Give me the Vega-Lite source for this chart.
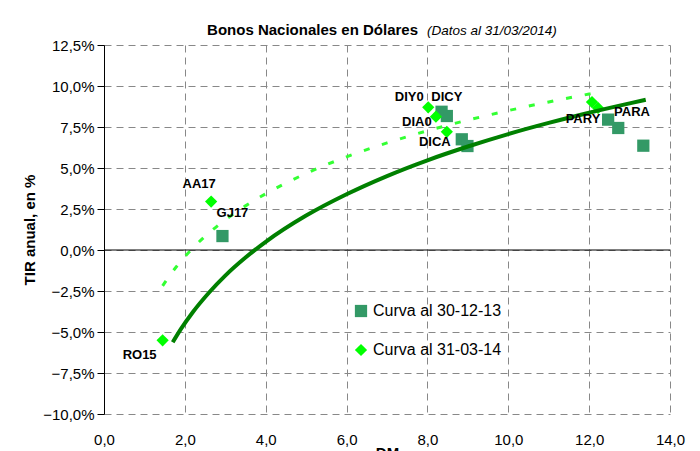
{
  "$schema": "https://vega.github.io/schema/vega-lite/v6.json",
  "width": 566,
  "height": 369,
  "autosize": {"type": "none"},
  "padding": {"left": 104, "top": 45, "right": 30, "bottom": 37},
  "background": "white",
  "config": {
    "font": "Liberation Sans",
    "view": {"stroke": null},
    "axis": {"gridColor": "#888888", "gridDash": [7, 5], "gridWidth": 1, "gridOpacity": 1, "labelColor": "black", "titleColor": "black", "labelFont": "Liberation Sans", "titleFont": "Liberation Sans"}
  },
  "datasets": {
    "bonos": [
      {"bono": "GJ17", "serie": "Curva al 30-12-13", "dm": 2.93, "tir": 0.85, "etiqueta": "GJ17"},
      {"bono": "DIY0", "serie": "Curva al 30-12-13", "dm": 8.35, "tir": 8.43},
      {"bono": "DICY", "serie": "Curva al 30-12-13", "dm": 8.48, "tir": 8.17, "etiqueta": "DICY"},
      {"bono": "DIA0", "serie": "Curva al 30-12-13", "dm": 8.85, "tir": 6.75},
      {"bono": "DICA", "serie": "Curva al 30-12-13", "dm": 8.99, "tir": 6.34},
      {"bono": "PARY", "serie": "Curva al 30-12-13", "dm": 12.47, "tir": 7.95},
      {"bono": "PARA", "serie": "Curva al 30-12-13", "dm": 12.72, "tir": 7.44},
      {"bono": "PARP", "serie": "Curva al 30-12-13", "dm": 13.34, "tir": 6.36},
      {"bono": "RO15", "serie": "Curva al 31-03-14", "dm": 1.45, "tir": -5.51, "etiqueta": "RO15"},
      {"bono": "AA17", "serie": "Curva al 31-03-14", "dm": 2.65, "tir": 2.95, "etiqueta": "AA17"},
      {"bono": "DIY0", "serie": "Curva al 31-03-14", "dm": 8.02, "tir": 8.70, "etiqueta": "DIY0"},
      {"bono": "DIA0", "serie": "Curva al 31-03-14", "dm": 8.21, "tir": 8.13, "etiqueta": "DIA0"},
      {"bono": "DICA", "serie": "Curva al 31-03-14", "dm": 8.48, "tir": 7.21, "etiqueta": "DICA"},
      {"bono": "PARY", "serie": "Curva al 31-03-14", "dm": 12.07, "tir": 9.02, "etiqueta": "PARY"},
      {"bono": "PARA", "serie": "Curva al 31-03-14", "dm": 12.22, "tir": 8.66, "etiqueta": "PARA"}
    ],
    "curva_dic": [
      {"dm": 1.7, "tir": -5.63}, {"dm": 1.9, "tir": -4.83}, {"dm": 2.2, "tir": -3.78},
      {"dm": 2.6, "tir": -2.59}, {"dm": 3.0, "tir": -1.56}, {"dm": 3.5, "tir": -0.46},
      {"dm": 4.0, "tir": 0.50}, {"dm": 5.0, "tir": 2.10}, {"dm": 6.0, "tir": 3.40},
      {"dm": 7.0, "tir": 4.51}, {"dm": 8.0, "tir": 5.47}, {"dm": 9.0, "tir": 6.31},
      {"dm": 10.0, "tir": 7.07}, {"dm": 11.0, "tir": 7.75}, {"dm": 12.0, "tir": 8.37},
      {"dm": 13.0, "tir": 8.94}, {"dm": 13.4, "tir": 9.16}
    ],
    "curva_mar": [
      {"dm": 1.45, "tir": -2.19}, {"dm": 1.6, "tir": -1.64}, {"dm": 1.8, "tir": -0.99},
      {"dm": 2.0, "tir": -0.41}, {"dm": 2.3, "tir": 0.37}, {"dm": 2.6, "tir": 1.05},
      {"dm": 3.0, "tir": 1.84}, {"dm": 3.5, "tir": 2.69}, {"dm": 4.0, "tir": 3.43},
      {"dm": 5.0, "tir": 4.67}, {"dm": 6.0, "tir": 5.68}, {"dm": 7.0, "tir": 6.53},
      {"dm": 8.0, "tir": 7.27}, {"dm": 9.0, "tir": 7.92}, {"dm": 10.0, "tir": 8.50},
      {"dm": 11.0, "tir": 9.03}, {"dm": 12.0, "tir": 9.51}, {"dm": 12.25, "tir": 9.63}
    ],
    "titulo": [
      {"parte": "Bonos Nacionales en Dólares", "dm": 2.55, "tir": 13.11},
      {"parte": "(Datos al 31/03/2014)", "dm": 7.99, "tir": 13.11}
    ]
  },
  "layer": [
    {
      "data": {"name": "bonos"},
      "mark": {"type": "point", "filled": true, "size": 150, "opacity": 1, "strokeWidth": 0},
      "encoding": {
        "x": {
          "field": "dm", "type": "quantitative",
          "scale": {"domain": [0, 14], "nice": false, "zero": false},
          "axis": {
            "title": "DM", "titleFontSize": 15, "titleFontWeight": "bold", "titlePadding": -2,
            "values": [0, 2, 4, 6, 8, 10, 12, 14],
            "labelExpr": "replace(format(datum.value, '.1f'), '.', ',')",
            "labelFontSize": 15, "labelPadding": 18, "ticks": false, "domain": false,
            "grid": true, "labelFlush": false
          }
        },
        "y": {
          "field": "tir", "type": "quantitative",
          "scale": {"domain": [-10, 12.5], "nice": false, "zero": false},
          "axis": {
            "title": "TIR anual, en %", "titleFontSize": 15, "titleFontWeight": "bold", "titlePadding": 5,
            "values": [-10, -7.5, -5, -2.5, 0, 2.5, 5, 7.5, 10, 12.5],
            "labelExpr": "replace(format(datum.value, '.1f'), '.', ',') + '%'",
            "labelFontSize": 15, "labelPadding": 3, "tickSize": 7, "tickColor": "black",
            "domain": true, "domainColor": "black", "grid": true
          }
        },
        "color": {
          "field": "serie", "type": "nominal",
          "scale": {"domain": ["Curva al 30-12-13", "Curva al 31-03-14"], "range": ["#339966", "#00FF00"]},
          "legend": {"title": null, "orient": "none", "legendX": 249, "legendY": 258, "labelFontSize": 16, "labelColor": "black", "symbolSize": 150, "rowPadding": 23, "labelOffset": 4, "symbolStrokeWidth": 0, "padding": 0}
        },
        "shape": {
          "field": "serie", "type": "nominal",
          "scale": {"domain": ["Curva al 30-12-13", "Curva al 31-03-14"], "range": ["square", "diamond"]},
          "legend": {"title": null, "orient": "none", "legendX": 249, "legendY": 258, "labelFontSize": 16, "labelColor": "black", "symbolSize": 150, "rowPadding": 23, "labelOffset": 4, "symbolStrokeWidth": 0, "padding": 0}
        }
      }
    },
    {
      "data": {"values": [{}]},
      "mark": {"type": "rule", "color": "black", "strokeWidth": 1},
      "encoding": {"y": {"datum": 0}}
    },
    {
      "data": {"name": "curva_mar"},
      "mark": {"type": "line", "color": "#33FF33", "strokeWidth": 3, "strokeDash": [6, 13], "interpolate": "monotone"},
      "encoding": {"x": {"field": "dm", "type": "quantitative"}, "y": {"field": "tir", "type": "quantitative"}}
    },
    {
      "data": {"name": "curva_dic"},
      "mark": {"type": "line", "color": "#008000", "strokeWidth": 4, "interpolate": "monotone"},
      "encoding": {"x": {"field": "dm", "type": "quantitative"}, "y": {"field": "tir", "type": "quantitative"}}
    },
    {"data": {"name": "bonos"}, "transform": [{"filter": "datum.etiqueta == 'RO15'"}], "mark": {"type": "text", "fontWeight": "bold", "fontSize": 13, "dx": -23, "dy": 15, "color": "black"}, "encoding": {"x": {"field": "dm", "type": "quantitative"}, "y": {"field": "tir", "type": "quantitative"}, "text": {"field": "etiqueta"}}},
    {"data": {"name": "bonos"}, "transform": [{"filter": "datum.etiqueta == 'AA17'"}], "mark": {"type": "text", "fontWeight": "bold", "fontSize": 13, "dx": -12, "dy": -18, "color": "black"}, "encoding": {"x": {"field": "dm", "type": "quantitative"}, "y": {"field": "tir", "type": "quantitative"}, "text": {"field": "etiqueta"}}},
    {"data": {"name": "bonos"}, "transform": [{"filter": "datum.etiqueta == 'GJ17'"}], "mark": {"type": "text", "fontWeight": "bold", "fontSize": 13, "dx": 10, "dy": -23, "color": "black"}, "encoding": {"x": {"field": "dm", "type": "quantitative"}, "y": {"field": "tir", "type": "quantitative"}, "text": {"field": "etiqueta"}}},
    {"data": {"name": "bonos"}, "transform": [{"filter": "datum.etiqueta == 'DIY0'"}], "mark": {"type": "text", "fontWeight": "bold", "fontSize": 13, "dx": -19, "dy": -10, "color": "black"}, "encoding": {"x": {"field": "dm", "type": "quantitative"}, "y": {"field": "tir", "type": "quantitative"}, "text": {"field": "etiqueta"}}},
    {"data": {"name": "bonos"}, "transform": [{"filter": "datum.etiqueta == 'DICY'"}], "mark": {"type": "text", "fontWeight": "bold", "fontSize": 13, "dx": 0, "dy": -19, "color": "black"}, "encoding": {"x": {"field": "dm", "type": "quantitative"}, "y": {"field": "tir", "type": "quantitative"}, "text": {"field": "etiqueta"}}},
    {"data": {"name": "bonos"}, "transform": [{"filter": "datum.etiqueta == 'DIA0'"}], "mark": {"type": "text", "fontWeight": "bold", "fontSize": 13, "dx": -19, "dy": 5, "color": "black"}, "encoding": {"x": {"field": "dm", "type": "quantitative"}, "y": {"field": "tir", "type": "quantitative"}, "text": {"field": "etiqueta"}}},
    {"data": {"name": "bonos"}, "transform": [{"filter": "datum.etiqueta == 'DICA'"}], "mark": {"type": "text", "fontWeight": "bold", "fontSize": 13, "dx": -12, "dy": 10, "color": "black"}, "encoding": {"x": {"field": "dm", "type": "quantitative"}, "y": {"field": "tir", "type": "quantitative"}, "text": {"field": "etiqueta"}}},
    {"data": {"name": "bonos"}, "transform": [{"filter": "datum.etiqueta == 'PARY'"}], "mark": {"type": "text", "fontWeight": "bold", "fontSize": 13, "dx": -9, "dy": 17, "color": "black"}, "encoding": {"x": {"field": "dm", "type": "quantitative"}, "y": {"field": "tir", "type": "quantitative"}, "text": {"field": "etiqueta"}}},
    {"data": {"name": "bonos"}, "transform": [{"filter": "datum.etiqueta == 'PARA'"}], "mark": {"type": "text", "fontWeight": "bold", "fontSize": 13, "dx": 34, "dy": 4, "color": "black"}, "encoding": {"x": {"field": "dm", "type": "quantitative"}, "y": {"field": "tir", "type": "quantitative"}, "text": {"field": "etiqueta"}}},
    {
      "data": {"name": "titulo"},
      "transform": [{"filter": "datum.parte == 'Bonos Nacionales en Dólares'"}],
      "mark": {"type": "text", "fontWeight": "bold", "fontSize": 15, "align": "left", "baseline": "alphabetic", "color": "black"},
      "encoding": {"x": {"field": "dm", "type": "quantitative"}, "y": {"field": "tir", "type": "quantitative"}, "text": {"field": "parte"}}
    },
    {
      "data": {"name": "titulo"},
      "transform": [{"filter": "datum.parte == '(Datos al 31/03/2014)'"}],
      "mark": {"type": "text", "fontStyle": "italic", "fontSize": 13.5, "align": "left", "baseline": "alphabetic", "color": "black"},
      "encoding": {"x": {"field": "dm", "type": "quantitative"}, "y": {"field": "tir", "type": "quantitative"}, "text": {"field": "parte"}}
    }
  ]
}
